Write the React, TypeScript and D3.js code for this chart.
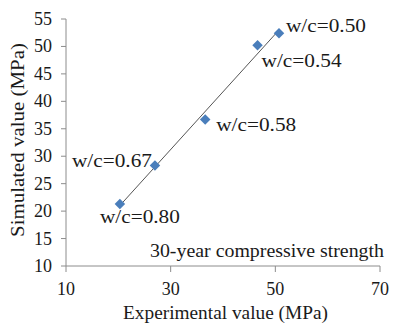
import React from "react";
import * as d3 from "d3";

const experimental = [20.3, 27.0, 36.6, 46.6, 50.7];
const simulated = [21.3, 28.3, 36.7, 50.2, 52.4];
const labels = ["w/c=0.80", "w/c=0.67", "w/c=0.58", "w/c=0.54", "w/c=0.50"];
const xTicks = [10, 30, 50, 70];
const yTicks = [10, 15, 20, 25, 30, 35, 40, 45, 50, 55];
const labelOffsets: [number, number][] = [
  [-20, 19],
  [-83, 1],
  [11, 12],
  [4, 22],
  [7, -1],
];

const W = 393;
const H = 324;
const FONT = "'Times New Roman', 'Liberation Serif', 'DejaVu Serif', serif";

export default function App() {
  const x = d3.scaleLinear().domain([10, 70]).range([66, 380]);
  const y = d3.scaleLinear().domain([10, 55]).range([266, 19]);

  const n = experimental.length;
  const mx = d3.mean(experimental)!;
  const my = d3.mean(simulated)!;
  let sxy = 0, sxx = 0;
  for (let i = 0; i < n; i++) {
    sxy += (experimental[i] - mx) * (simulated[i] - my);
    sxx += (experimental[i] - mx) ** 2;
  }
  const slope = sxy / sxx;
  const intercept = my - slope * mx;
  const x0 = d3.min(experimental)!;
  const x1 = d3.max(experimental)!;
  const line = d3.line<number>().x((d) => x(d)).y((d) => y(slope * d + intercept));

  const diamond = d3.symbol().type(d3.symbolDiamond2).size(70)();
  const axisColor = "#8c8c8c";
  const textColor = "#1a1a1a";
  const ts = { fontFamily: FONT } as React.CSSProperties;

  return (
    <svg width={W} height={H} style={{ position: "absolute", left: 0, top: 0, fontFamily: FONT }}>
      <rect width={W} height={H} fill="#fff" />
      <line x1={66} x2={66} y1={y(55)} y2={y(10)} stroke={axisColor} strokeWidth={1} />
      {yTicks.map((t) => (
        <g key={t}>
          <line x1={61} x2={66} y1={y(t)} y2={y(t)} stroke={axisColor} />
          <text style={ts} x={52} y={y(t) + 6} textAnchor="end" fontSize={18} fill={textColor}>
            {t}
          </text>
        </g>
      ))}
      <line x1={x(10)} x2={x(70)} y1={266} y2={266} stroke={axisColor} strokeWidth={1} />
      {xTicks.map((t) => (
        <g key={t}>
          <line x1={x(t)} x2={x(t)} y1={266} y2={272} stroke={axisColor} />
          <text style={ts} x={x(t)} y={295} textAnchor="middle" fontSize={18} fill={textColor}>
            {t}
          </text>
        </g>
      ))}
      <path d={line([x0, x1]) || ""} stroke="#555" strokeWidth={1} fill="none" />
      {experimental.map((e, i) => (
        <path key={i} d={diamond || ""} transform={`translate(${x(e)},${y(simulated[i])})`} fill="#4a7ebb" />
      ))}
      {labels.map((l, i) => (
        <text
          key={l}
          style={ts}
          x={x(experimental[i]) + labelOffsets[i][0]}
          y={y(simulated[i]) + labelOffsets[i][1]}
          fontSize={18}
          fill={textColor}
          textLength={80}
          lengthAdjust="spacingAndGlyphs"
        >
          {l}
        </text>
      ))}
      <text style={ts} x={150} y={257} fontSize={18} fill={textColor} textLength={234} lengthAdjust="spacingAndGlyphs">
        30-year compressive strength
      </text>
      <text style={ts} x={225.5} y={319} textAnchor="middle" fontSize={18} fill={textColor} textLength={205} lengthAdjust="spacingAndGlyphs">
        Experimental value (MPa)
      </text>
      <text
        style={ts}
        transform={`translate(24,140) rotate(-90)`}
        textAnchor="middle"
        fontSize={18}
        fill={textColor}
        textLength={194}
        lengthAdjust="spacingAndGlyphs"
      >
        Simulated value (MPa)
      </text>
    </svg>
  );
}
